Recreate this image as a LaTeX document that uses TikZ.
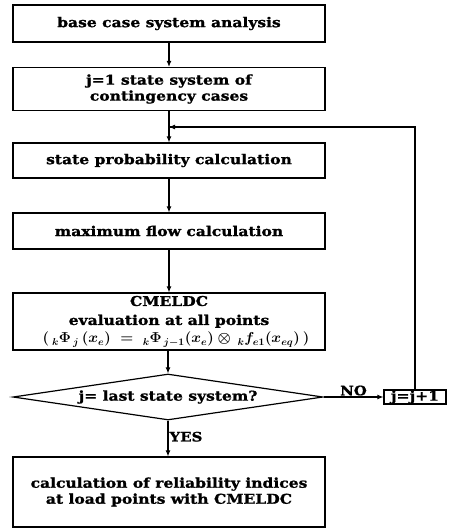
\documentclass[tikz,border=0pt]{standalone}
\usepackage{fontspec}
\setmainfont{DejaVu Serif}[FakeStretch=1.15, BoldFeatures={FakeBold=1.2}]
\usetikzlibrary{arrows.meta,shapes.geometric}
\begin{document}
\begin{tikzpicture}[x=1pt,y=1pt,
  box/.style={draw, line width=1.2pt, minimum width=312pt, inner sep=0pt, align=center, font=\bfseries\fontsize{13.5}{16}\selectfont},
  conn/.style={line width=1.1pt, -{Latex[length=6pt,width=5pt]}},
  lbl/.style={font=\bfseries\fontsize{13}{15}\selectfont, inner sep=1pt}]
\useasboundingbox (0,0) rectangle (449,-532);
\node[box, minimum height=37pt] (b1) at (169,-23.5) {base case system analysis};
\node[box, minimum height=43pt] (b2) at (169,-89) {j=1 state system of\\contingency cases};
\node[box, minimum height=35pt] (b3) at (169,-160.5) {state probability calculation};
\node[box, minimum height=36pt] (b4) at (169,-231) {maximum flow calculation};
\node[box, minimum height=57pt, font=\bfseries\fontsize{13.5}{19}\selectfont] (b5) at (169,-321.5) {CMELDC\\evaluation at all points\\[-1pt]{\normalfont\fontsize{14}{16}\selectfont\boldmath\hspace*{14pt}\scalebox{1.03}[1]{$\bigl(\,{}_k\Phi_{\,j}\,(x_e)\;=\;{}_k\Phi_{\,j-1}(x_e)\otimes\,{}_kf_{e1}(x_{eq})\,\bigr)$}}};
\node[draw, diamond, line width=1.2pt, minimum width=310pt, minimum height=46pt, aspect=6.7, inner sep=0pt, font=\bfseries\fontsize{13.5}{16}\selectfont] (d) at (168,-397) {j= last state system?};
\node[draw, line width=1.2pt, minimum width=62pt, minimum height=14pt, inner sep=0pt, font=\bfseries\fontsize{13.5}{14}\selectfont] (inc) at (415,-397) {j=j+1};
\node[box, minimum height=70pt] (b6) at (169,-492) {calculation of reliability indices\\at load points with CMELDC};
\coordinate (m) at (169,-127);
\draw[conn] (b1) -- (b2);
\draw[conn] (b2) -- (b3);
\draw[conn] (b3) -- (b4);
\draw[conn] (b4) -- (b5);
\draw[conn] (b5.south -| d.north) -- (d.north);
\draw[conn] (d.east) -- node[lbl, above] {NO} (inc.west);
\draw[conn] (d.south) -- node[lbl, right, pos=0.45] {YES} (d.south |- b6.north);
\draw[line width=1.1pt] (inc.north) |- (m -| inc.north) -- (m);
\draw[conn] (m -| inc.north) -- (m);
\end{tikzpicture}
\end{document}
